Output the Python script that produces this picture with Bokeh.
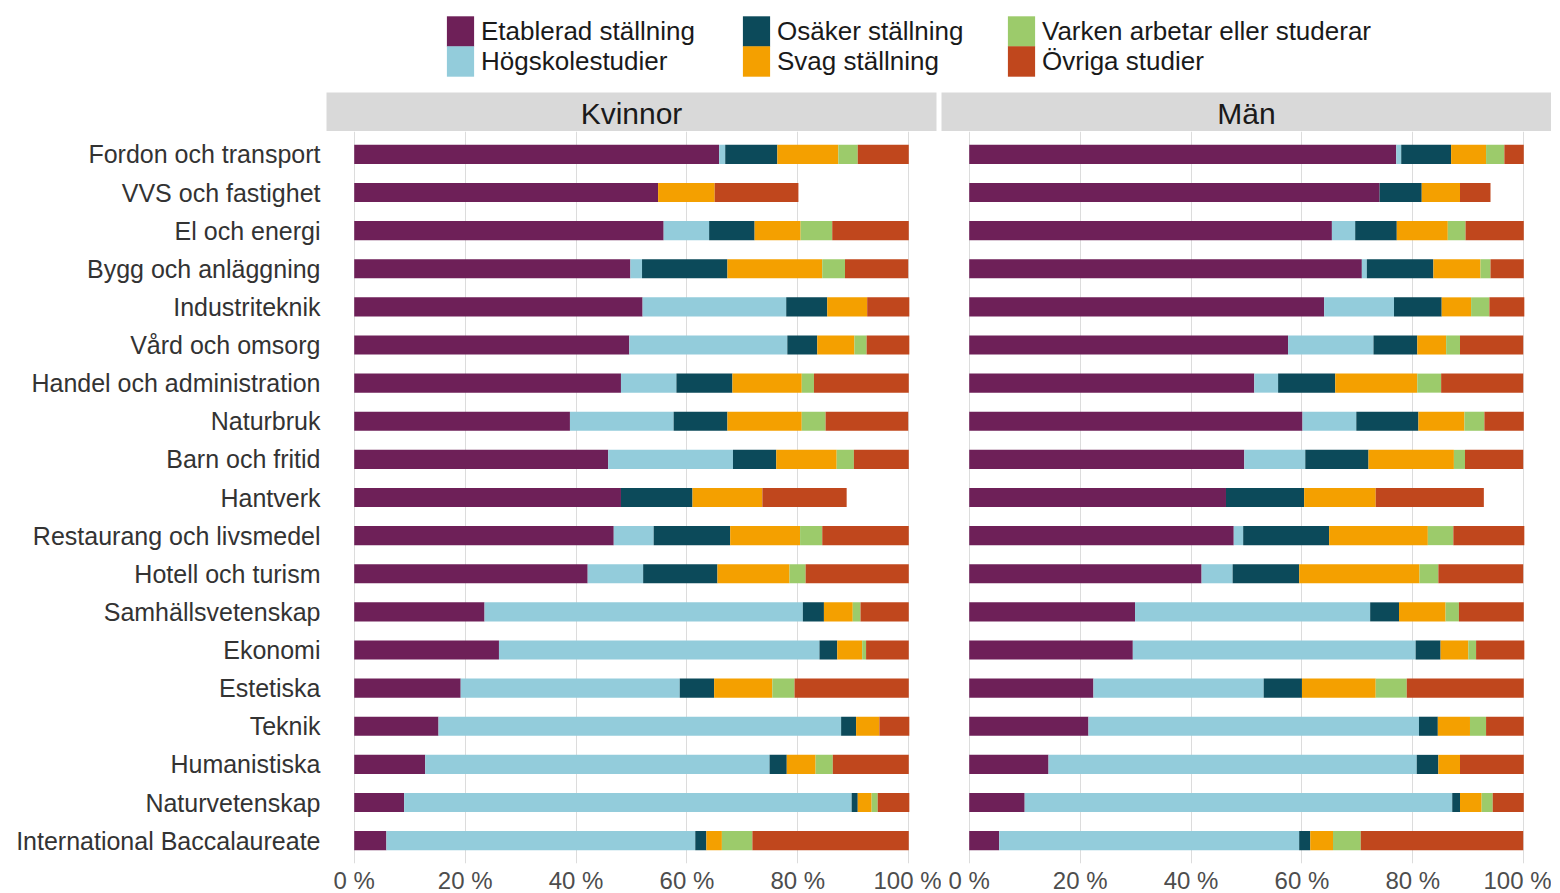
from bokeh.plotting import figure
from bokeh.models import FactorRange, Range1d, FixedTicker, ColumnDataSource, Legend, LegendItem
from bokeh.layouts import column, row
from bokeh.embed import file_html
from bokeh.resources import INLINE
from bokeh.core.properties import value

categories = [
    "Fordon och transport", "VVS och fastighet", "El och energi", "Bygg och anläggning",
    "Industriteknik", "Vård och omsorg", "Handel och administration", "Naturbruk",
    "Barn och fritid", "Hantverk", "Restaurang och livsmedel", "Hotell och turism",
    "Samhällsvetenskap", "Ekonomi", "Estetiska", "Teknik", "Humanistiska",
    "Naturvetenskap", "International Baccalaureate",
]
series = ["Etablerad ställning", "Högskolestudier", "Osäker ställning",
          "Svag ställning", "Varken arbetar eller studerar", "Övriga studier"]
colors = ["#6E2058", "#93CCDB", "#0C4A5A", "#F4A000", "#9CCB6B", "#C0471D"]
panels = ["Kvinnor", "Män"]
x_ticks = [0, 20, 40, 60, 80, 100]
x_tick_labels = ["0 %", "20 %", "40 %", "60 %", "80 %", "100 %"]

# Kvinnor
etab_k = [65.8, 54.8, 55.8, 49.8, 52.0, 49.6, 48.1, 38.9, 45.8, 48.1, 46.8, 42.1, 23.5, 26.1, 19.2, 15.2, 12.8, 9.0, 5.8]
hog_k = [1.1, 0, 8.2, 2.1, 25.9, 28.5, 10.0, 18.7, 22.5, 0, 7.2, 10.0, 57.4, 57.8, 39.5, 72.6, 62.1, 80.7, 55.7]
osak_k = [9.4, 0, 8.2, 15.4, 7.4, 5.4, 10.1, 9.7, 7.8, 12.9, 13.8, 13.4, 3.8, 3.2, 6.2, 2.7, 3.1, 1.1, 2.0]
svag_k = [11.0, 10.2, 8.3, 17.1, 7.2, 6.7, 12.5, 13.4, 10.9, 12.6, 12.6, 13.0, 5.2, 4.5, 10.5, 4.2, 5.2, 2.5, 2.8]
varken_k = [3.5, 0, 5.7, 4.1, 0, 2.2, 2.2, 4.3, 3.1, 0, 4.0, 2.9, 1.4, 0.7, 4.0, 0, 3.1, 1.1, 5.5]
ovr_k = [9.2, 15.1, 13.8, 11.4, 7.6, 7.7, 17.1, 14.9, 9.9, 15.2, 15.6, 18.6, 8.7, 7.7, 20.6, 5.4, 13.7, 5.7, 28.2]

# Män
etab_m = [77.0, 74.0, 65.4, 70.8, 64.0, 57.5, 51.4, 60.1, 49.6, 46.3, 47.7, 41.9, 29.9, 29.5, 22.4, 21.5, 14.3, 10.0, 5.4]
hog_m = [0.9, 0, 4.2, 0.9, 12.6, 15.4, 4.3, 9.7, 11.0, 0, 1.7, 5.6, 42.4, 51.0, 30.7, 59.6, 66.4, 77.1, 54.1]
osak_m = [9.0, 7.6, 7.5, 12.0, 8.6, 7.9, 10.3, 11.2, 11.4, 14.1, 15.5, 12.0, 5.2, 4.5, 6.9, 3.4, 3.9, 1.4, 2.0]
svag_m = [6.3, 6.9, 9.2, 8.5, 5.3, 5.2, 14.8, 8.3, 15.4, 12.9, 17.8, 21.7, 8.4, 5.0, 13.3, 5.8, 3.9, 3.9, 4.1]
varken_m = [3.3, 0, 3.2, 1.8, 3.3, 2.5, 4.3, 3.6, 2.0, 0, 4.6, 3.4, 2.4, 1.4, 5.6, 2.9, 0, 2.0, 5.0]
ovr_m = [3.5, 5.5, 10.5, 6.0, 6.3, 11.4, 14.8, 7.1, 10.5, 19.5, 12.8, 15.3, 11.7, 8.7, 21.1, 6.8, 11.5, 5.6, 29.3]

values_k = [etab_k, hog_k, osak_k, svag_k, varken_k, ovr_k]
values_m = [etab_m, hog_m, osak_m, svag_m, varken_m, ovr_m]

FONT = "Liberation Sans"
FRAME_W = 610
FRAME_H = 732
GAP = 5
LEFT = 326

y_range = FactorRange(factors=categories[::-1], range_padding=0.1, range_padding_units="absolute")


def make_panel(vals, left_border, right_border, show_y):
    data = {"cat": categories}
    for s, v in zip(series, vals):
        data[s] = v
    src = ColumnDataSource(data)
    p = figure(y_range=y_range, x_range=Range1d(-5, 105),
               frame_width=FRAME_W, frame_height=FRAME_H,
               min_border_left=left_border, min_border_right=right_border,
               min_border_top=0, min_border_bottom=0,
               y_axis_location="left" if show_y else None,
               output_backend="svg", toolbar_location=None)
    p.hbar_stack(series, y="cat", height=0.5, fill_color=colors, line_color=None, source=src)
    p.outline_line_color = None
    p.background_fill_color = "white"
    p.ygrid.grid_line_color = None
    p.xgrid.grid_line_color = "#DCDCDC"
    p.xgrid.grid_line_width = 1
    p.xaxis.ticker = FixedTicker(ticks=x_ticks)
    p.xaxis.major_label_overrides = dict(zip(x_ticks, x_tick_labels))
    p.xaxis.axis_line_color = None
    p.xaxis.major_tick_line_color = None
    p.xaxis.minor_tick_line_color = None
    p.xaxis.major_tick_out = 0
    p.xaxis.major_label_standoff = 3
    p.xaxis.major_label_text_font = FONT
    p.xaxis.major_label_text_font_size = "24px"
    p.xaxis.major_label_text_color = "#4D4D4D"
    if show_y:
        p.yaxis.axis_line_color = None
        p.yaxis.major_tick_line_color = None
        p.yaxis.major_tick_out = 0
        p.yaxis.major_label_standoff = 6
        p.yaxis.major_label_text_font = FONT
        p.yaxis.major_label_text_font_size = "25px"
        p.yaxis.major_label_text_color = "#333333"
    return p


def make_strip(label, left_border, right_border):
    s = figure(x_range=Range1d(0, 1), y_range=Range1d(0, 1),
               frame_width=FRAME_W, frame_height=39,
               min_border_left=left_border, min_border_right=right_border,
               min_border_top=0, min_border_bottom=0,
               x_axis_location=None, y_axis_location=None,
               output_backend="svg", toolbar_location=None)
    s.background_fill_color = "#D9D9D9"
    s.outline_line_color = None
    s.grid.visible = False
    s.text(x=[0.5], y=[0.45], text=[label], text_align="center", text_baseline="middle",
           text_font=value(FONT), text_font_size="30px", text_color="#1A1A1A")
    return s


p1 = make_panel(values_k, LEFT, GAP, True)
p2 = make_panel(values_m, 0, 0, False)
s1 = make_strip(panels[0], LEFT, GAP)
s2 = make_strip(panels[1], 0, 0)

# legend figure (one legend per entry so that the keys can touch)
LEG_H = 92
leg = figure(x_range=Range1d(0, 1), y_range=Range1d(0, 1),
             frame_width=LEFT + 2 * FRAME_W + GAP, frame_height=LEG_H, min_border=0,
             x_axis_location=None, y_axis_location=None,
             output_backend="svg", toolbar_location=None)
leg.outline_line_color = None
leg.grid.visible = False
rends = [leg.hbar(y=[-10], left=[0.4], right=[0.5], height=1, fill_color=c, line_color=None)
         for c in colors]
col_x = [443, 739, 1004]
row_bottom = [LEG_H - 50, LEG_H - 80]
for i, s in enumerate(series):
    j, k = divmod(i, 2)
    lg = Legend(items=[LegendItem(label=s, renderers=[rends[i]])],
                location=(col_x[j], row_bottom[k]), orientation="vertical",
                glyph_width=34, glyph_height=38, label_height=38, label_standoff=4,
                spacing=0, padding=0, margin=0, border_line_color=None,
                background_fill_alpha=0, label_text_font=FONT,
                label_text_font_size="26px", label_text_color="#1A1A1A")
    leg.add_layout(lg)

layout = column(leg, row(column(s1, p1), column(s2, p2)))

open("out.html", "w").write(file_html(layout, INLINE))
